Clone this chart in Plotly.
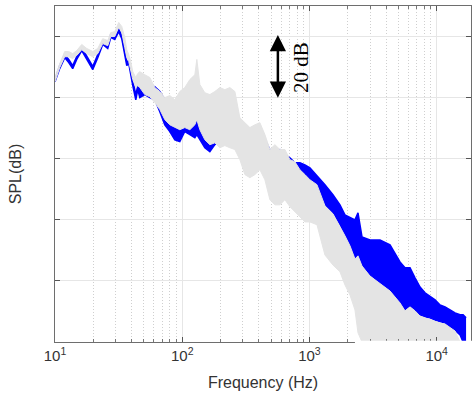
import math
import plotly.graph_objects as go

# ---- data (frequency in Hz, SPL in dB) ----
FREQ_HZ = [10, 10.89, 11.92, 12.82, 13.78, 14.82, 16.23, 17.76, 19.81, 21.68,
           23.73, 25.98, 27.43, 29.49, 31.71, 33.48, 35.35, 36.65, 38.0, 39.41,
           40.87, 43.15, 44.74, 46.39, 50.79, 55.61, 60.88, 66.66, 72.98, 79.9,
           87.48, 95.74, 104.8, 114.8, 125.7, 130.3, 137.6, 150.6, 164.9, 180.5,
           197.7, 216.3, 236.8, 259.4, 283.9, 310.9, 340.3, 372.6, 407.9, 446.6,
           488.9, 535.3, 586.1, 641.6, 702.4, 769.0, 842.0, 921.8, 1009, 1146,
           1324, 1530, 1738, 1902, 2083, 2280, 2408, 2589, 2992, 3587,
           4299, 5152, 5641, 6177, 6761, 7402, 8103, 8875, 9714, 10640,
           11640, 12750, 13950, 15280, 16140, 17030]

BLUE_UPPER = [85.9, 90.5, 94.1, 92.5, 90.5, 93.4, 96.4, 93.4, 90.2, 94.1,
              98.4, 97.0, 100.7, 100.0, 102.6, 100.3, 95.1, 91.8, 92.1, 89.2,
              85.2, 81.0, 83.9, 83.9, 85.9, 83.9, 83.6, 82.0, 79.3, 77.7,
              78.4, 79.3, 79.3, 80.0, 77.7, 79.3, 79.3, 77.7, 76.7, 78.0,
              80.3, 81.0, 81.6, 79.3, 71.1, 70.5, 69.5, 70.2, 67.9, 66.2,
              63.0, 62.3, 63.0, 61.3, 60.3, 58.7, 58.7, 58.0, 57.0, 54.4,
              51.5, 48.2, 44.9, 41.6, 40.7, 40.0, 42.3, 34.4, 33.4, 33.4,
              31.8, 26.2, 24.3, 24.3, 21.0, 18.0, 16.1, 14.8, 13.8, 12.1,
              11.5, 10.5, 9.5, 8.9, 8.9, 7.9]

BLUE_LOWER = [85.2, 89.5, 93.1, 91.5, 89.5, 92.5, 95.4, 92.5, 89.2, 93.1,
              97.4, 96.1, 99.7, 99.0, 101.6, 99.3, 93.1, 90.5, 91.1, 87.2,
              83.9, 79.3, 82.6, 80.0, 81.0, 80.0, 79.3, 75.4, 71.1, 68.9,
              66.2, 65.6, 68.9, 67.9, 66.9, 67.9, 66.2, 63.6, 62.3, 64.6,
              66.2, 67.9, 69.5, 67.2, 63.0, 59.7, 58.0, 59.0, 57.4, 57.0,
              52.5, 49.8, 47.5, 49.8, 47.5, 49.8, 52.1, 51.5, 49.8, 47.5,
              44.9, 42.3, 38.4, 35.1, 31.8, 27.5, 28.5, 25.2, 22.0, 19.3,
              17.0, 13.1, 10.5, 11.8, 10.5, 8.9, 8.2, 7.9, 7.2, 6.6,
              6.2, 4.9, 3.9, 2.3, 0.0, 0.0]

GRAY_UPPER = [86.6, 91.1, 95.1, 95.1, 94.4, 95.4, 97.4, 96.1, 95.1, 96.1,
              99.3, 98.7, 101.3, 101.6, 104.6, 103.3, 99.7, 95.7, 94.1, 91.8,
              88.5, 86.6, 87.9, 88.5, 87.5, 86.6, 83.3, 82.0, 80.0, 80.7,
              79.3, 82.0, 83.3, 85.9, 87.5, 92.5, 84.3, 81.6, 81.0, 82.0,
              83.3, 82.6, 83.3, 82.0, 73.4, 71.8, 70.2, 71.1, 71.8, 67.9,
              63.0, 64.6, 63.0, 63.0, 59.7, 59.0, 56.4, 54.8, 53.1, 51.5,
              44.6, 42.0, 38.0, 34.8, 31.5, 27.2, 28.2, 24.9, 21.6, 19.0,
              16.7, 12.8, 10.2, 11.5, 10.2, 8.5, 7.9, 7.5, 6.9, 6.2,
              5.9, 4.6, 3.6, 0.0, 0.0, 0.0]

GRAY_LOWER = [85.2, 89.8, 93.4, 93.4, 92.8, 93.8, 95.7, 94.4, 93.4, 94.4,
              97.7, 97.0, 100.0, 100.0, 103.0, 101.3, 96.4, 93.1, 91.8, 89.2,
              85.9, 83.3, 83.9, 83.3, 81.0, 80.3, 78.4, 76.1, 72.8, 71.1,
              70.2, 69.5, 70.2, 69.5, 71.1, 72.8, 69.5, 66.2, 64.6, 65.2,
              63.6, 64.3, 63.6, 63.0, 59.7, 54.8, 53.8, 54.8, 56.4, 53.1,
              46.6, 44.9, 44.9, 46.6, 44.3, 42.6, 40.7, 39.3, 39.3, 38.4,
              28.5, 25.2, 23.0, 18.7, 15.4, 10.5, 3.0, 0.0, 0.0, 0.0,
              0.0, 0.0, 0.0, 0.0, 0.0, 0.0, 0.0, 0.0, 0.0, 0.0,
              0.0, 0.0, 0.0, 0.0, 0.0, 0.0]

X_TICKS = [10, 100, 1000, 10000]
X_TICK_TEXT = ["10<sup>1</sup>", "10<sup>2</sup>", "10<sup>3</sup>", "10<sup>4</sup>"]
Y_TICKS = [20, 40, 60, 80, 100]
ARROW_FREQ = 565
ARROW_DB = (79.5, 100.5)
LABEL_FREQ = 849
LABEL_DB = 89.8

BLUE = "#0000ff"
GRAY = "#e4e4e4"
FONT = "Liberation Sans, Arial, sans-serif"

minor_vals = [m * 10 ** d for d in range(1, 5) for m in range(2, 10)]

fig = go.Figure()
fig.add_trace(go.Scatter(x=FREQ_HZ, y=BLUE_LOWER, mode="lines",
                         line=dict(color=BLUE, width=1.5), hoverinfo="skip",
                         showlegend=False))
fig.add_trace(go.Scatter(x=FREQ_HZ, y=BLUE_UPPER, mode="lines", fill="tonexty",
                         fillcolor=BLUE, line=dict(color=BLUE, width=1.5),
                         showlegend=False))
fig.add_trace(go.Scatter(x=FREQ_HZ, y=GRAY_LOWER, mode="lines",
                         line=dict(color=GRAY, width=1), hoverinfo="skip",
                         showlegend=False))
fig.add_trace(go.Scatter(x=FREQ_HZ, y=GRAY_UPPER, mode="lines", fill="tonexty",
                         fillcolor=GRAY, line=dict(color=GRAY, width=1),
                         showlegend=False))

fig.update_layout(
    width=472, height=397,
    margin=dict(l=55, r=1, t=6, b=55),
    paper_bgcolor="white", plot_bgcolor="white",
    font=dict(family=FONT, size=15, color="#333333"),
    showlegend=False,
)
fig.update_xaxes(
    type="log", range=[1, 4.27], automargin=False,
    tickvals=X_TICKS, ticktext=X_TICK_TEXT,
    ticks="inside", ticklen=5, tickcolor="#555555",
    showline=True, linecolor="#6e6e6e", linewidth=1, mirror="ticks",
    showgrid=True, gridcolor="#e6e6e6", gridwidth=1,
    minor=dict(tickvals=minor_vals, ticks="inside", ticklen=3, tickcolor="#777777",
               showgrid=True, gridcolor="#cfcfcf", griddash="1px,2px", gridwidth=1),
    title=dict(text="Frequency (Hz)", font=dict(size=16, family=FONT, color="#333333"),
               standoff=13),
    tickfont=dict(size=15, family=FONT, color="#333333"),
    zeroline=False,
)
fig.update_yaxes(
    range=[0, 110], automargin=False,
    tickvals=Y_TICKS, showticklabels=False,
    ticks="inside", ticklen=5, tickcolor="#555555",
    showline=True, linecolor="#6e6e6e", linewidth=1, mirror="ticks",
    showgrid=True, gridcolor="#e6e6e6", gridwidth=1,
    title=dict(text="SPL(dB)", font=dict(size=16, family=FONT, color="#333333"),
               standoff=28),
    zeroline=False,
)

# 20 dB scale arrow
fig.add_annotation(
    x=math.log10(ARROW_FREQ), y=ARROW_DB[1],
    ax=math.log10(ARROW_FREQ), ay=ARROW_DB[0],
    xref="x", yref="y", axref="x", ayref="y",
    text="", showarrow=True, arrowhead=2, arrowside="end+start",
    arrowwidth=2.5, arrowsize=1.3, arrowcolor="black",
)
fig.add_annotation(
    x=math.log10(LABEL_FREQ), y=LABEL_DB, xref="x", yref="y",
    text="20 dB", showarrow=False, textangle=-90,
    font=dict(family="Liberation Serif, Times New Roman, serif", size=21, color="black"),
)

# white patch hiding the axis line at the lower right (as in the reference)
fig.add_shape(type="rect", xref="paper", yref="paper",
              x0=0.721, x1=1.01, y0=-0.012, y1=0.004,
              fillcolor="white", line=dict(width=0), layer="above")

fig.write_html(
    "out.html",
    config={"displayModeBar": False},
    post_script="document.body.style.margin='0';document.body.style.padding='0';"
                "document.body.style.overflow='hidden';",
)
